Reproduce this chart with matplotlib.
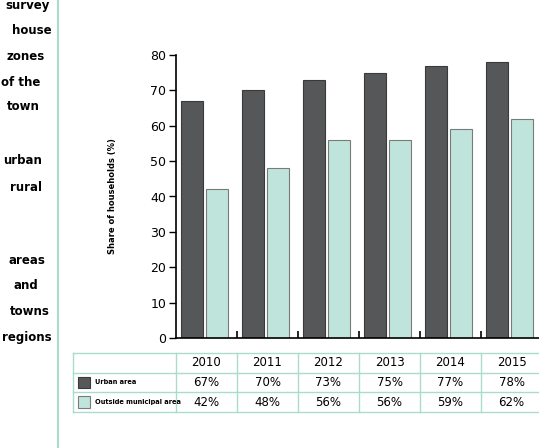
import numpy as np
import matplotlib
matplotlib.use("Agg")
import matplotlib.pyplot as plt
from matplotlib.patches import Rectangle

# data
years = ["2010", "2011", "2012", "2013", "2014", "2015"]
series_a = [67, 70, 73, 75, 77, 78]
series_b = [42, 48, 56, 56, 59, 62]
name_a = "Urban area"
name_b = "Outside municipal area"
y_label = "Share of households (%)"
yticks = [0, 10, 20, 30, 40, 50, 60, 70, 80]

# text of the page column at left (cut off by the crop)
side_lines = ["survey", "house", "zones", "of the", "town",
              "urban", "rural", "areas", "and", "towns", "regions"]
side_y = [6, 31, 57, 82, 107, 160, 187, 260, 285, 311, 337]
side_x = [50, 52, 45, 40, 40, 42, 42, 45, 38, 50, 52]

dark = "#565758"
teal = "#bfe4db"
edge = "#7a7a7a"
line_teal = "#a9dccf"

W, H = 539, 448
fig = plt.figure(figsize=(W / 100, H / 100), dpi=100)
fig.patch.set_facecolor("white")


def px(x0, y0, w, h):
    # figure rect from pixel box (top-left origin)
    return [x0 / W, 1 - (y0 + h) / H, w / W, h / H]


ax = fig.add_axes(px(176, 55, 366, 283))
x = np.arange(len(years))
bw = 0.355
ax.bar(x - 0.235, series_a, bw, color=dark, edgecolor="#3a3a3a", linewidth=0.8)
ax.bar(x + 0.17, series_b, bw, color=teal, edgecolor=edge, linewidth=0.8)
ax.set_xlim(-0.5, 5.5)
ax.set_ylim(0, 80)
ax.set_yticks(yticks)
ax.set_yticklabels([str(v) for v in yticks], fontsize=9)
ax.tick_params(axis="y", direction="out", length=5, width=1, pad=2)
ax.set_xticks(np.arange(0.5, 5.5, 1))
ax.set_xticklabels([])
ax.tick_params(axis="x", direction="in", length=5, width=1.2)
for s in ["top", "right"]:
    ax.spines[s].set_visible(False)
ax.spines["left"].set_linewidth(1.2)
ax.spines["bottom"].set_linewidth(1.2)
ax.set_ylabel(y_label, fontsize=6, fontweight="bold", labelpad=24)

# data table under the plot, same x scale as the bars
tax = fig.add_axes(px(176, 353, 366, 59))
tax.set_xlim(-0.5, 5.5)
tax.set_ylim(3, 0)
tax.axis("off")
left = -0.5 - 103 / 61
for r in range(4):
    tax.plot([left, 5.5], [r, r], color=line_teal, lw=1, clip_on=False)
for b in np.arange(-0.5, 6.0, 1):
    tax.plot([b, b], [0, 3], color=line_teal, lw=1, clip_on=False)
tax.plot([left, left], [0, 3], color=line_teal, lw=1, clip_on=False)
for i, yr in enumerate(years):
    tax.text(i, 0.5, yr, ha="center", va="center", fontsize=8.5)
    tax.text(i, 1.5, f"{series_a[i]}%", ha="center", va="center", fontsize=8.5)
    tax.text(i, 2.5, f"{series_b[i]}%", ha="center", va="center", fontsize=8.5)
sw = 12 / 61
for r, (c, ec, nm) in enumerate([(dark, "#3a3a3a", name_a), (teal, edge, name_b)]):
    tax.add_patch(Rectangle((left + 5 / 61, r + 1.2), sw, 0.6, facecolor=c,
                            edgecolor=ec, lw=0.8, clip_on=False))
    tax.text(left + 22 / 61, r + 1.5, nm, ha="left", va="center", fontsize=4.8,
             fontweight="bold")

# page column line and cut-off text at left
fig.add_artist(plt.Line2D([58 / W, 58 / W], [0, 1], color=line_teal, lw=1.5))
for t, yy, xx in zip(side_lines, side_y, side_x):
    fig.text(xx / W, 1 - yy / H, t, ha="right", va="center", fontsize=8.5,
             fontweight="bold")

fig.savefig("out.png", dpi=100)
